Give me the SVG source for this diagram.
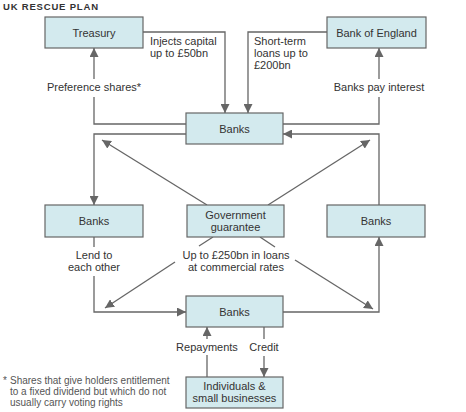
<svg xmlns="http://www.w3.org/2000/svg" width="466" height="412" viewBox="0 0 466 412">
<style>
.box{fill:#d3eaee;stroke:#666;stroke-width:1.2}
.bt{font-family:"Liberation Sans",Arial,sans-serif;font-size:11px;fill:#333;text-anchor:middle}
.lb{font-family:"Liberation Sans",Arial,sans-serif;font-size:11px;fill:#333}
.c{text-anchor:middle}
.ln{fill:none;stroke:#666;stroke-width:1.3}
.fn{font-family:"Liberation Sans",Arial,sans-serif;font-size:10px;fill:#555}
</style>
<defs>
<marker id="ah" viewBox="0 0 10 10" refX="10" refY="5" markerUnits="userSpaceOnUse" markerWidth="9" markerHeight="9" orient="auto">
<path d="M0,0 L10,5 L0,10 z" fill="#666"/>
</marker>
</defs>
<rect width="466" height="412" fill="#fff"/>
<text x="3" y="10" font-family="'Liberation Sans',Arial,sans-serif" font-size="9.5" font-weight="bold" fill="#333" textLength="95" lengthAdjust="spacing">UK RESCUE PLAN</text>

<g id="connectors">
<path class="ln" d="M143,32 H225 V113" marker-end="url(#ah)"/>
<path class="ln" d="M327,32 H248 V113" marker-end="url(#ah)"/>
<path class="ln" d="M186,124 H94 V97"/>
<path class="ln" d="M94,79 V48" marker-end="url(#ah)"/>
<path class="ln" d="M283,124 H379 V97"/>
<path class="ln" d="M379,79 V48" marker-end="url(#ah)"/>
<path class="ln" d="M186,134 H94 V205" marker-end="url(#ah)"/>
<path class="ln" d="M379,205 V134 H283" marker-end="url(#ah)"/>
<path class="ln" d="M207,205 L102,140" marker-end="url(#ah)"/>
<path class="ln" d="M268,205 L370,140" marker-end="url(#ah)"/>
<path class="ln" d="M213,237 L199,246"/>
<path class="ln" d="M175,262 L105,308" marker-end="url(#ah)"/>
<path class="ln" d="M260,237 L275,247"/>
<path class="ln" d="M295,260 L373,309" marker-end="url(#ah)"/>
<path class="ln" d="M94,237 V247"/>
<path class="ln" d="M94,276 V312 H186" marker-end="url(#ah)"/>
<path class="ln" d="M283,312 H379 V237" marker-end="url(#ah)"/>
<path class="ln" d="M207,377 V355"/>
<path class="ln" d="M207,339 V327" marker-end="url(#ah)"/>
<path class="ln" d="M264,327 V339"/>
<path class="ln" d="M264,356 V377" marker-end="url(#ah)"/>
</g>

<g id="treasury"><rect class="box" x="45" y="17" width="98" height="31"/><text class="bt" x="94" y="36.5">Treasury</text></g>
<g id="boe"><rect class="box" x="327" y="17" width="99" height="31"/><text class="bt" x="376.5" y="36.5">Bank of England</text></g>
<g id="banks-center"><rect class="box" x="186" y="113" width="97" height="31"/><text class="bt" x="234.5" y="132.5">Banks</text></g>
<g id="banks-left"><rect class="box" x="45" y="205" width="98" height="32"/><text class="bt" x="94" y="225">Banks</text></g>
<g id="government"><rect class="box" x="187" y="205" width="97" height="32"/><text class="bt" x="235.5" y="219">Government</text><text class="bt" x="235.5" y="231">guarantee</text></g>
<g id="banks-right"><rect class="box" x="327" y="205" width="98" height="32"/><text class="bt" x="376" y="225">Banks</text></g>
<g id="banks-bottom"><rect class="box" x="186" y="296" width="97" height="31"/><text class="bt" x="234.5" y="316">Banks</text></g>
<g id="individuals"><rect class="box" x="186" y="377" width="97" height="31"/><text class="bt" x="234.5" y="390">Individuals &amp;</text><text class="bt" x="234.5" y="402">small businesses</text></g>

<g id="labels">
<text class="lb" x="150" y="45">Injects capital</text>
<text class="lb" x="150" y="57">up to £50bn</text>
<text class="lb" x="254" y="45">Short-term</text>
<text class="lb" x="254" y="57">loans up to</text>
<text class="lb" x="254" y="69">£200bn</text>
<text class="lb c" x="94" y="91">Preference shares*</text>
<text class="lb c" x="379" y="91">Banks pay interest</text>
<text class="lb c" x="94" y="259">Lend to</text>
<text class="lb c" x="94" y="271">each other</text>
<text class="lb c" x="236" y="259">Up to £250bn in loans</text>
<text class="lb c" x="236" y="271">at commercial rates</text>
<text class="lb c" x="207" y="351">Repayments</text>
<text class="lb c" x="264" y="351">Credit</text>
</g>

<g id="footnote">
<text class="fn" x="3" y="384">*</text>
<text class="fn" x="10" y="384">Shares that give holders entitlement</text>
<text class="fn" x="10" y="395">to a fixed dividend but which do not</text>
<text class="fn" x="10" y="406">usually carry voting rights</text>
</g>
</svg>
